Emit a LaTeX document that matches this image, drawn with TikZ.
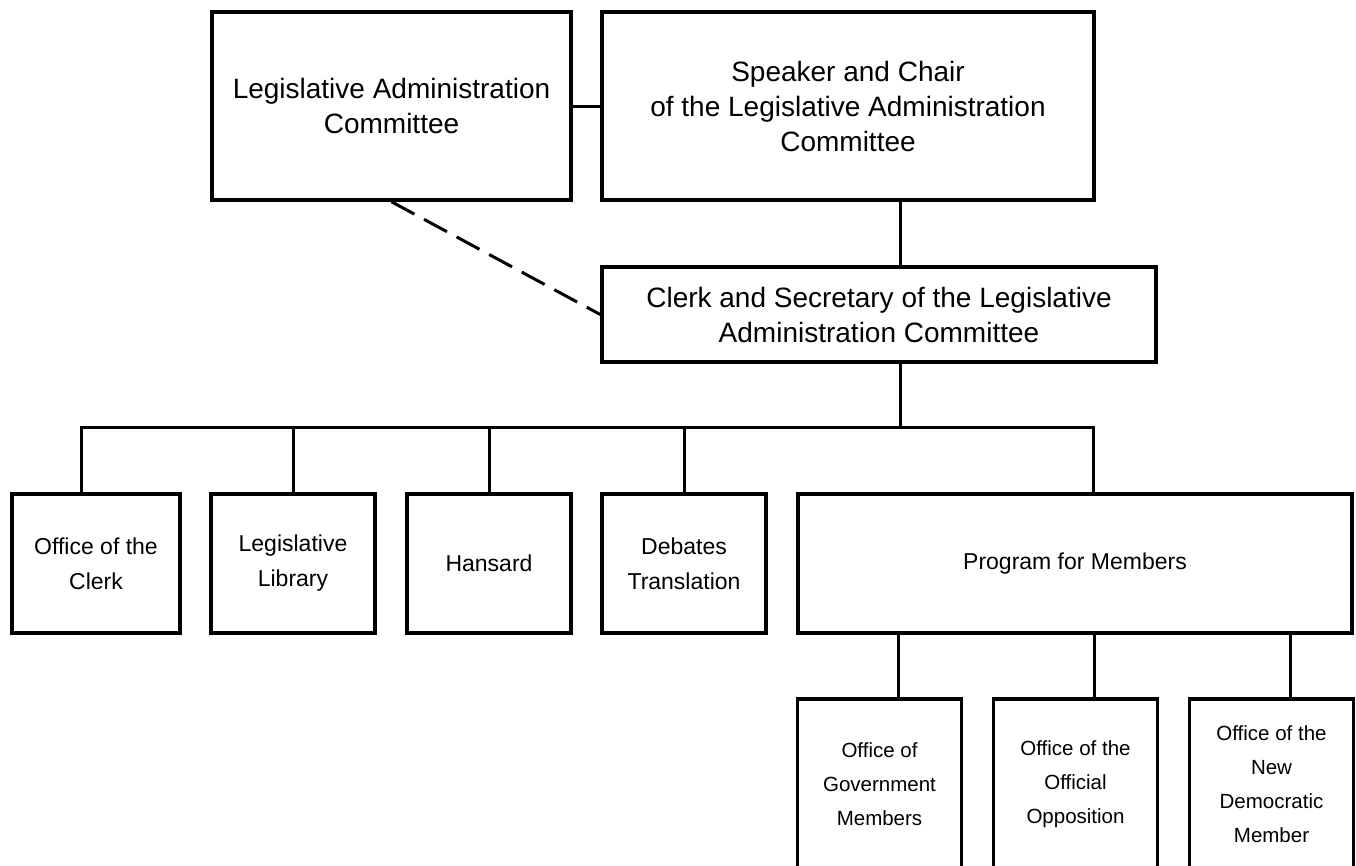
\documentclass[tikz,border=0pt]{standalone}
\usepackage{fontspec}
\setmainfont{Liberation Sans}
\usetikzlibrary{
    positioning % for placing nodes relative to other nodes
}

\begin{document}
\begin{tikzpicture}[
    x=1pt,y=-1pt,on grid,
    every box/.style  = {draw,line width=3.5pt,align=center,inner sep=0pt},
    head box/.style   = {every box,font=\fontsize{28}{35}\selectfont},
    unit box/.style   = {every box,minimum width=164pt,minimum height=139pt,font=\fontsize{23}{35}\selectfont},
    office box/.style = {every box,minimum width=164pt,minimum height=171pt,font=\fontsize{20.5}{34}\selectfont},
    link/.style       = {line width=3pt},
    loose link/.style = {link,dash pattern=on 26pt off 11pt}
]
\useasboundingbox (0,0) rectangle (1356,865);

% committee and speaker (top)

    \node [head box,minimum width=359pt,minimum height=188pt] (lac) at (391.5,106)
        {Legislative Administration\\Committee};
    \node [head box,minimum width=492pt,minimum height=188pt] (speaker) [right=456.5pt of lac]
        {Speaker and Chair\\of the Legislative Administration\\Committee};
    \node [head box,minimum width=554pt,minimum height=95pt] (clerk) [below=208.5pt of speaker,xshift=31pt]
        {Clerk and Secretary of the Legislative\\Administration Committee};

% branches

    \node [unit box,minimum width=168pt] (office)  at (96,563.5)    {Office of the\\Clerk};
    \node [unit box] (library)  [right=197pt of office]             {Legislative\\Library};
    \node [unit box] (hansard)  [right=196pt of library]            {Hansard};
    \node [unit box] (debates)  [right=195pt of hansard]            {Debates\\Translation};
    \node [unit box,minimum width=554pt] (program) [right=391pt of debates] {Program for Members};

% caucus offices

    \node [office box] (gov) [below=221pt of program,xshift=-195.5pt] {Office of\\Government\\Members};
    \node [office box] (opp) [right=196pt of gov]                     {Office of the\\Official\\Opposition};
    \node [office box] (ndp) [right=196pt of opp]                     {Office of the\\New\\Democratic\\Member};

% connectors

    \coordinate (trunk) at (900,427);
    \coordinate (busL)  at (81,427);
    \coordinate (busR)  at (1093,427);

    \draw [link] (lac) -- (speaker);
    \draw [loose link] (lac.south) -- (clerk.west);
    \draw [link] (trunk |- speaker.south) -- (trunk |- clerk.north);
    \draw [link] (trunk |- clerk.south) -- (trunk);
    \draw [link] (busL |- office.north) -- (busL) -- (busR) -- (busR |- program.north);
    \foreach \n in {library,hansard,debates}
        \draw [link] (\n.north |- busL) -- (\n.north);
    \foreach \n in {gov,opp,ndp} {
        \coordinate (d\n) at ([xshift=19pt]\n.north);
        \draw [link] (d\n) -- (d\n |- program.south);
    }

\end{tikzpicture}
\end{document}
